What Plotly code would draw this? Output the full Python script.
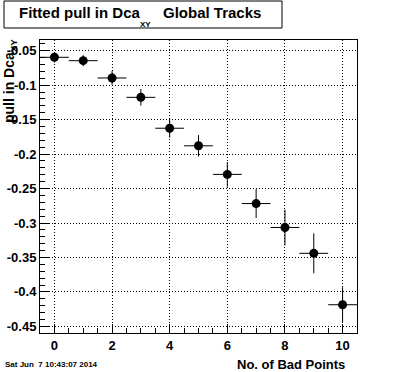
import plotly.graph_objects as go

# ---- data ----
bad_points = [0, 1, 2, 3, 4, 5, 6, 7, 8, 9, 10]
pull_dca_xy = [-0.0596, -0.0645, -0.0896, -0.1177, -0.1625, -0.1880, -0.2295, -0.2718, -0.3065, -0.3440, -0.4186]
pull_err = [0.0077, 0.0080, 0.0100, 0.0120, 0.0133, 0.0155, 0.0180, 0.0210, 0.0260, 0.0290, 0.0254]
bin_half_width = [0.5] * 11

y_tick_vals = [-0.05, -0.1, -0.15, -0.2, -0.25, -0.3, -0.35, -0.4, -0.45]
y_tick_text = ["-0.05", "-0.1", "-0.15", "-0.2", "-0.25", "-0.3", "-0.35", "-0.4", "-0.45"]
x_tick_vals = [0, 2, 4, 6, 8, 10]
x_tick_text = ["0", "2", "4", "6", "8", "10"]

title_main = "Fitted pull in Dca"
title_sub = "XY"
title_rest = "Global Tracks"
y_title = "pull in Dca<sub>XY</sub>"
x_title = "No. of Bad Points"
date_text = "Sat Jun  7 10:43:07 2014"

# ---- layout geometry (pixels) ----
W, H = 396, 372
L, R, T, B = 40, 39, 40, 39
PW, PH = W - L - R, H - T - B


def px(x):
    return (x - L) / PW


def py(y):
    return (H - B - y) / PH


FONT = "Liberation Sans"

fig = go.Figure()
fig.add_trace(go.Scatter(
    x=bad_points, y=pull_dca_xy, mode="markers",
    marker=dict(symbol="circle", size=9, color="black"),
    error_x=dict(type="data", array=bin_half_width, color="black", thickness=1, width=0),
    error_y=dict(type="data", array=pull_err, color="black", thickness=1, width=0),
    showlegend=False,
))

axis_common = dict(
    showline=True, linecolor="black", linewidth=1, mirror=True,
    ticks="inside", tickcolor="black", tickwidth=1,
    showgrid=True, gridcolor="black", gridwidth=1, griddash="1px,2px",
    zeroline=False, automargin=False,
    tickfont=dict(family=FONT, size=13, color="black", weight="bold"),
)

fig.update_xaxes(
    range=[-0.5, 10.5], tickmode="array", tickvals=x_tick_vals, ticktext=x_tick_text,
    ticklen=9,
    minor=dict(dtick=0.5, tick0=0, ticks="inside", ticklen=5, tickcolor="black", showgrid=False),
    **axis_common,
)
fig.update_yaxes(
    range=[-0.4596, -0.0345], tickmode="array", tickvals=y_tick_vals, ticktext=y_tick_text,
    ticklen=9,
    minor=dict(dtick=0.01, tick0=0, ticks="inside", ticklen=5, tickcolor="black", showgrid=False),
    **axis_common,
)

fig.update_layout(
    width=W, height=H,
    margin=dict(l=L, r=R, t=T, b=B, pad=0, autoexpand=False),
    paper_bgcolor="white", plot_bgcolor="white",
    font=dict(family=FONT, color="black"),
)

# title box
fig.add_shape(type="rect", xref="paper", yref="paper",
              x0=px(4), x1=px(282), y0=py(28), y1=py(1),
              line=dict(color="black", width=1), fillcolor="white", layer="above")
fig.add_annotation(text=title_main, xref="paper", yref="paper", x=px(17), y=py(13),
                   xanchor="left", yanchor="middle", showarrow=False,
                   font=dict(family=FONT, size=15, color="black", weight="bold"))
fig.add_annotation(text=title_sub, xref="paper", yref="paper", x=px(138), y=py(24),
                   xanchor="left", yanchor="middle", showarrow=False,
                   font=dict(family=FONT, size=8, color="black", weight="bold"))
fig.add_annotation(text=title_rest, xref="paper", yref="paper", x=px(161), y=py(13),
                   xanchor="left", yanchor="middle", showarrow=False,
                   font=dict(family=FONT, size=15, color="black", weight="bold"))

# axis titles
fig.add_annotation(text=y_title, xref="paper", yref="paper", x=px(10), y=py(37),
                   xanchor="center", yanchor="top", textangle=-90, showarrow=False,
                   font=dict(family=FONT, size=14, color="black", weight="bold"))
fig.add_annotation(text=x_title, xref="paper", yref="paper", x=px(347), y=py(364),
                   xanchor="right", yanchor="middle", showarrow=False,
                   font=dict(family=FONT, size=13, color="black", weight="bold"))
fig.add_annotation(text=date_text, xref="paper", yref="paper", x=px(3), y=py(364),
                   xanchor="left", yanchor="middle", showarrow=False,
                   font=dict(family=FONT, size=8, color="black", weight="bold"))

fig.write_html("out.html", config={"displayModeBar": False},
               post_script="document.body.style.margin='0';")
